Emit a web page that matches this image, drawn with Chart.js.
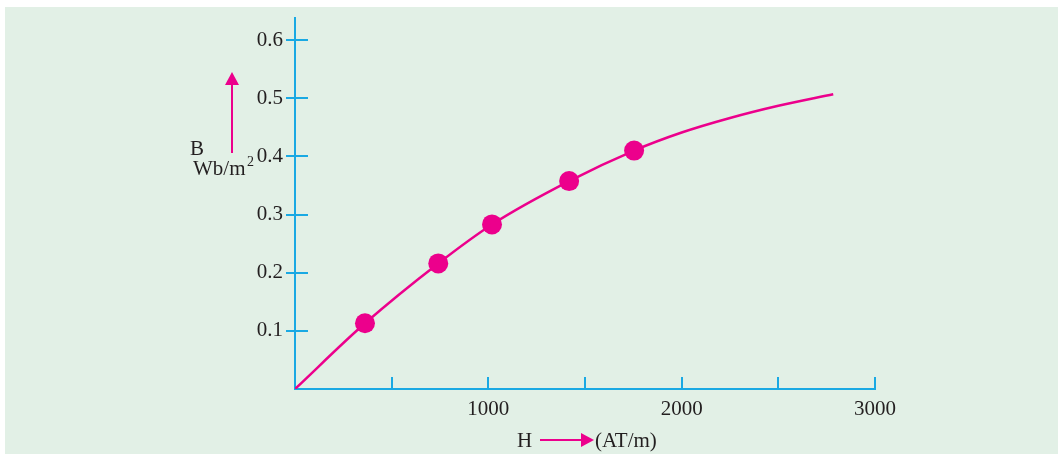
<!DOCTYPE html>
<html>
<head>
<meta charset="utf-8">
<script src="https://cdn.jsdelivr.net/npm/chart.js@4.4.1/dist/chart.umd.min.js"></script>
<style>
  html, body { margin: 0; padding: 0; background: #ffffff; }
  #wrap { position: relative; width: 1058px; height: 454px; }
</style>
</head>
<body>
<div id="wrap"><canvas id="c" width="1058" height="454"></canvas></div>
<script>
// ---- data ----
const curveH = [0, 362, 741, 1019, 1418, 1754, 2000, 2250, 2500, 2784];
const curveB = [0, 0.113, 0.216, 0.283, 0.3575, 0.410, 0.441, 0.466, 0.487, 0.507];
const pointH = [362, 741, 1019, 1418, 1754];
const pointB = [0.113, 0.216, 0.283, 0.3575, 0.410];
const yTicks = [0.1, 0.2, 0.3, 0.4, 0.5, 0.6];
const xTickMarks = [500, 1000, 1500, 2000, 2500, 3000];
const xTickLabels = [1000, 2000, 3000];

const MAGENTA = '#ec008c';
const AXIS = '#1aa9e3';
const BG = '#e2f0e6';
const FONT = '"Liberation Serif", "Times New Roman", serif';

const decor = {
  id: 'decor',
  beforeDraw(chart) {
    const ctx = chart.ctx;
    ctx.save();
    ctx.fillStyle = BG;
    ctx.fillRect(5, 7, chart.width - 5, chart.height - 7);
    ctx.restore();
  },
  afterDraw(chart) {
    const ctx = chart.ctx;
    const xs = chart.scales.x, ys = chart.scales.y;
    const left = chart.chartArea.left, bottom = chart.chartArea.bottom;
    ctx.save();
    ctx.strokeStyle = AXIS;
    ctx.lineWidth = 2;
    // y tick marks crossing the axis
    yTicks.forEach(v => {
      const y = Math.round(ys.getPixelForValue(v));
      ctx.beginPath();
      ctx.moveTo(left - 9, y);
      ctx.lineTo(left + 13, y);
      ctx.stroke();
    });
    // x tick marks pointing up
    xTickMarks.forEach(v => {
      const x = Math.round(xs.getPixelForValue(v));
      ctx.beginPath();
      ctx.moveTo(x, bottom - 12);
      ctx.lineTo(x, bottom);
      ctx.stroke();
    });

    // axis titles
    ctx.fillStyle = '#231f20';
    ctx.font = '21px ' + FONT;
    ctx.textBaseline = 'alphabetic';
    ctx.textAlign = 'left';
    ctx.fillText('B', 190, 155);
    ctx.fillText('Wb/m', 193, 175);
    ctx.font = '14px ' + FONT;
    ctx.fillText('2', 247, 166);
    ctx.font = '21px ' + FONT;
    ctx.fillText('H', 517, 447);
    ctx.fillText('(AT/m)', 595, 447);

    // arrows
    ctx.strokeStyle = MAGENTA;
    ctx.fillStyle = MAGENTA;
    ctx.lineWidth = 2;
    ctx.beginPath();
    ctx.moveTo(232, 153);
    ctx.lineTo(232, 83);
    ctx.stroke();
    ctx.beginPath();
    ctx.moveTo(232, 72);
    ctx.lineTo(225, 85);
    ctx.lineTo(239, 85);
    ctx.closePath();
    ctx.fill();

    ctx.beginPath();
    ctx.moveTo(540, 440);
    ctx.lineTo(583, 440);
    ctx.stroke();
    ctx.beginPath();
    ctx.moveTo(594, 440);
    ctx.lineTo(581, 433);
    ctx.lineTo(581, 447);
    ctx.closePath();
    ctx.fill();
    ctx.restore();
  }
};

new Chart(document.getElementById('c'), {
  type: 'scatter',
  data: {
    datasets: [
      {
        data: curveH.map((h, i) => ({ x: h, y: curveB[i] })),
        showLine: true,
        borderColor: MAGENTA,
        borderWidth: 2.5,
        pointRadius: 0,
        cubicInterpolationMode: 'monotone',
        fill: false
      },
      {
        data: pointH.map((h, i) => ({ x: h, y: pointB[i] })),
        showLine: false,
        backgroundColor: MAGENTA,
        borderColor: MAGENTA,
        pointRadius: 10,
        pointBorderWidth: 0
      }
    ]
  },
  options: {
    responsive: false,
    animation: false,
    events: [],
    layout: { padding: { left: 235, right: 183, top: 18, bottom: 0 } },
    plugins: { legend: { display: false }, tooltip: { enabled: false } },
    scales: {
      x: {
        type: 'linear',
        min: 0,
        max: 3000,
        grid: { display: false, drawTicks: false },
        border: { display: true, color: AXIS, width: 2 },
        afterFit(s) { s.height = 65; s.paddingLeft = 0; s.paddingRight = 0; },
        afterBuildTicks(s) { s.ticks = xTickLabels.map(v => ({ value: v })); },
        ticks: {
          padding: 8,
          maxRotation: 0,
          color: '#231f20',
          font: { family: FONT, size: 21 },
          callback: v => String(v)
        }
      },
      y: {
        type: 'linear',
        min: 0,
        max: 0.638,
        grid: { display: false, drawTicks: false },
        border: { display: true, color: AXIS, width: 2 },
        afterFit(s) { s.width = 60; s.paddingTop = 0; s.paddingBottom = 0; },
        afterBuildTicks(s) { s.ticks = yTicks.map(v => ({ value: v })); },
        ticks: {
          padding: 12,
          color: '#231f20',
          font: { family: FONT, size: 21 },
          callback: v => v.toFixed(1)
        }
      }
    }
  },
  plugins: [decor]
});
</script>
</body>
</html>
